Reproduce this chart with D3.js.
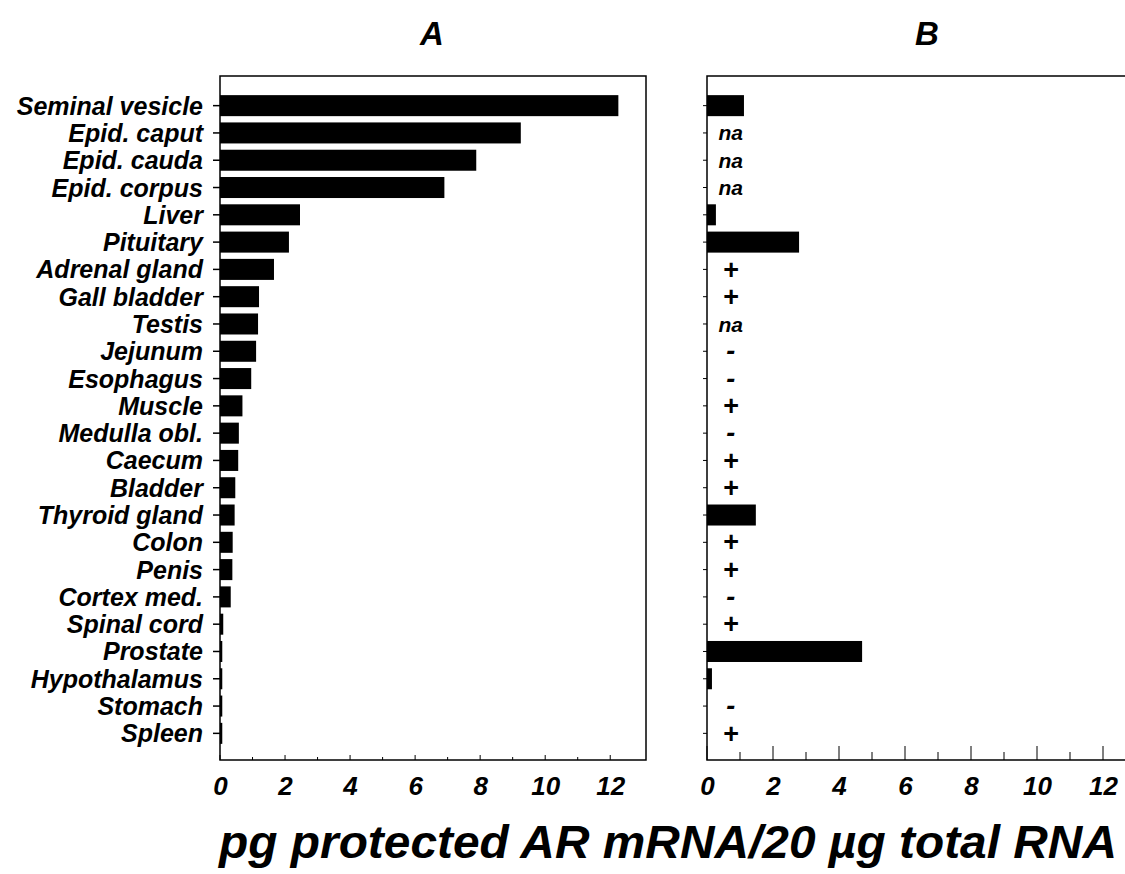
<!DOCTYPE html>
<html>
<head>
<meta charset="utf-8">
<style>
  body { margin: 0; background: #fff; }
  text { font-family: "Liberation Sans", Arial, sans-serif; font-weight: bold; font-style: italic; fill: #000; }
</style>
</head>
<body>
<script src="https://d3js.org/d3.v7.min.js"></script>
<script>
// tissues, top to bottom
var tissues = ["Seminal vesicle", "Epid. caput", "Epid. cauda", "Epid. corpus", "Liver",
  "Pituitary", "Adrenal gland", "Gall bladder", "Testis", "Jejunum", "Esophagus",
  "Muscle", "Medulla obl.", "Caecum", "Bladder", "Thyroid gland", "Colon", "Penis",
  "Cortex med.", "Spinal cord", "Prostate", "Hypothalamus", "Stomach", "Spleen"];

// panel A: pg protected AR mRNA / 20 ug total RNA
var valuesA = [12.25, 9.25, 7.88, 6.9, 2.46, 2.12, 1.66, 1.2, 1.17, 1.11, 0.96,
  0.69, 0.58, 0.56, 0.47, 0.45, 0.39, 0.38, 0.33, 0.1, 0.07, 0.07, 0.07, 0.07];

// panel B: bar value or a mark (na / + / -)
var valuesB = [1.12, null, null, null, 0.27, 2.79, null, null, null, null, null,
  null, null, null, null, 1.48, null, null, null, null, 4.7, 0.15, null, null];
var marksB = ["", "na", "na", "na", "", "", "+", "+", "na", "-", "-",
  "+", "-", "+", "+", "", "+", "+", "-", "+", "", "", "-", "+"];

var ticks = [0, 2, 4, 6, 8, 10, 12];
var minorTicks = [1, 3, 5, 7, 9, 11];

var W = 1125, H = 874;
var plotTop = 76, plotBottom = 760;

var svg = d3.select("body").append("svg")
    .attr("width", W)
    .attr("height", H);

var y = d3.scaleBand()
    .domain(tissues)
    .range([92, 747])
    .paddingInner(0.23)
    .paddingOuter(0.115);

var xA = d3.scaleLinear().domain([0, 13.1]).range([220, 646]);
var xB = d3.scaleLinear().domain([0, 13.1]).range([707, 707 + 13.1 * 33]);

// ---- panel A ----
svg.append("rect")
    .attr("x", xA(0)).attr("y", plotTop)
    .attr("width", xA(13.1) - xA(0)).attr("height", plotBottom - plotTop)
    .attr("fill", "none").attr("stroke", "#000").attr("stroke-width", 1.5);

svg.selectAll(".barA")
    .data(valuesA)
    .enter().append("rect")
    .attr("class", "barA")
    .attr("x", xA(0))
    .attr("y", function(d, i) { return y(tissues[i]); })
    .attr("width", function(d) { return xA(d) - xA(0); })
    .attr("height", y.bandwidth())
    .attr("fill", "#000");

svg.append("g")
    .attr("transform", "translate(" + xA(0) + ",0)")
    .call(d3.axisLeft(y).tickSize(7).tickPadding(10))
    .call(function(g) {
        g.select(".domain").remove();
        g.selectAll("line").attr("stroke-width", 1.5);
        g.selectAll("text").attr("font-size", 25).attr("font-family", null).attr("dy", "0.36em");
    });

svg.append("g")
    .attr("transform", "translate(0," + plotBottom + ")")
    .call(d3.axisBottom(xA).tickValues(ticks).tickSize(0).tickPadding(17).tickFormat(d3.format("d")))
    .call(function(g) {
        g.select(".domain").remove();
        g.selectAll("text").attr("font-size", 26).attr("font-family", null);
    });

svg.append("g").selectAll("line")
    .data(ticks.concat(minorTicks))
    .enter().append("line")
    .attr("x1", function(d) { return xA(d); })
    .attr("x2", function(d) { return xA(d); })
    .attr("y1", plotBottom)
    .attr("y2", function(d) { return plotBottom - (d % 2 ? 3 : 5); })
    .attr("stroke", "#000").attr("stroke-width", 1);

// ---- panel B ----
svg.append("path")
    .attr("d", "M" + W + "," + plotTop + "H" + xB(0) + "V" + plotBottom + "H" + W)
    .attr("fill", "none").attr("stroke", "#000").attr("stroke-width", 1.5);

svg.selectAll(".barB")
    .data(valuesB)
    .enter().filter(function(d) { return d != null; })
    .append("rect")
    .attr("class", "barB")
    .attr("x", xB(0))
    .attr("y", function(d) { return y(tissues[valuesB.indexOf(d)]); })
    .attr("width", function(d) { return xB(d) - xB(0); })
    .attr("height", y.bandwidth())
    .attr("fill", "#000");

svg.selectAll(".markB")
    .data(marksB)
    .enter().append("text")
    .attr("class", "markB")
    .attr("x", xB(0.72))
    .attr("y", function(d, i) { return y(tissues[i]) + y.bandwidth() / 2; })
    .attr("dy", function(d) { return d == "na" ? "0.36em" : "0.34em"; })
    .attr("text-anchor", "middle")
    .attr("font-size", function(d) { return d == "na" ? 21 : 27; })
    .text(function(d) { return d; });

svg.append("g")
    .attr("transform", "translate(" + xB(0) + ",0)")
    .call(d3.axisLeft(y).tickSize(4).tickFormat(""))
    .call(function(g) { g.select(".domain").remove(); });

svg.append("g")
    .attr("transform", "translate(0," + plotBottom + ")")
    .call(d3.axisBottom(xB).tickValues(ticks).tickSize(0).tickPadding(17).tickFormat(d3.format("d")))
    .call(function(g) {
        g.select(".domain").remove();
        g.selectAll("text").attr("font-size", 26).attr("font-family", null);
    });

svg.append("g").selectAll("line")
    .data(ticks.concat(minorTicks))
    .enter().append("line")
    .attr("x1", function(d) { return xB(d); })
    .attr("x2", function(d) { return xB(d); })
    .attr("y1", plotBottom)
    .attr("y2", function(d) { return plotBottom - (d % 2 ? 8 : 14); })
    .attr("stroke", "#000").attr("stroke-width", 1);

// ---- titles ----
svg.append("text").attr("x", 432).attr("y", 45).attr("text-anchor", "middle")
    .attr("font-size", 33).text("A");
svg.append("text").attr("x", 927).attr("y", 45).attr("text-anchor", "middle")
    .attr("font-size", 33).text("B");

svg.append("text").attr("x", 668).attr("y", 858).attr("text-anchor", "middle")
    .attr("font-size", 46)
    .attr("textLength", 898).attr("lengthAdjust", "spacingAndGlyphs")
    .text("pg protected AR mRNA/20 µg total RNA");
</script>
</body>
</html>
